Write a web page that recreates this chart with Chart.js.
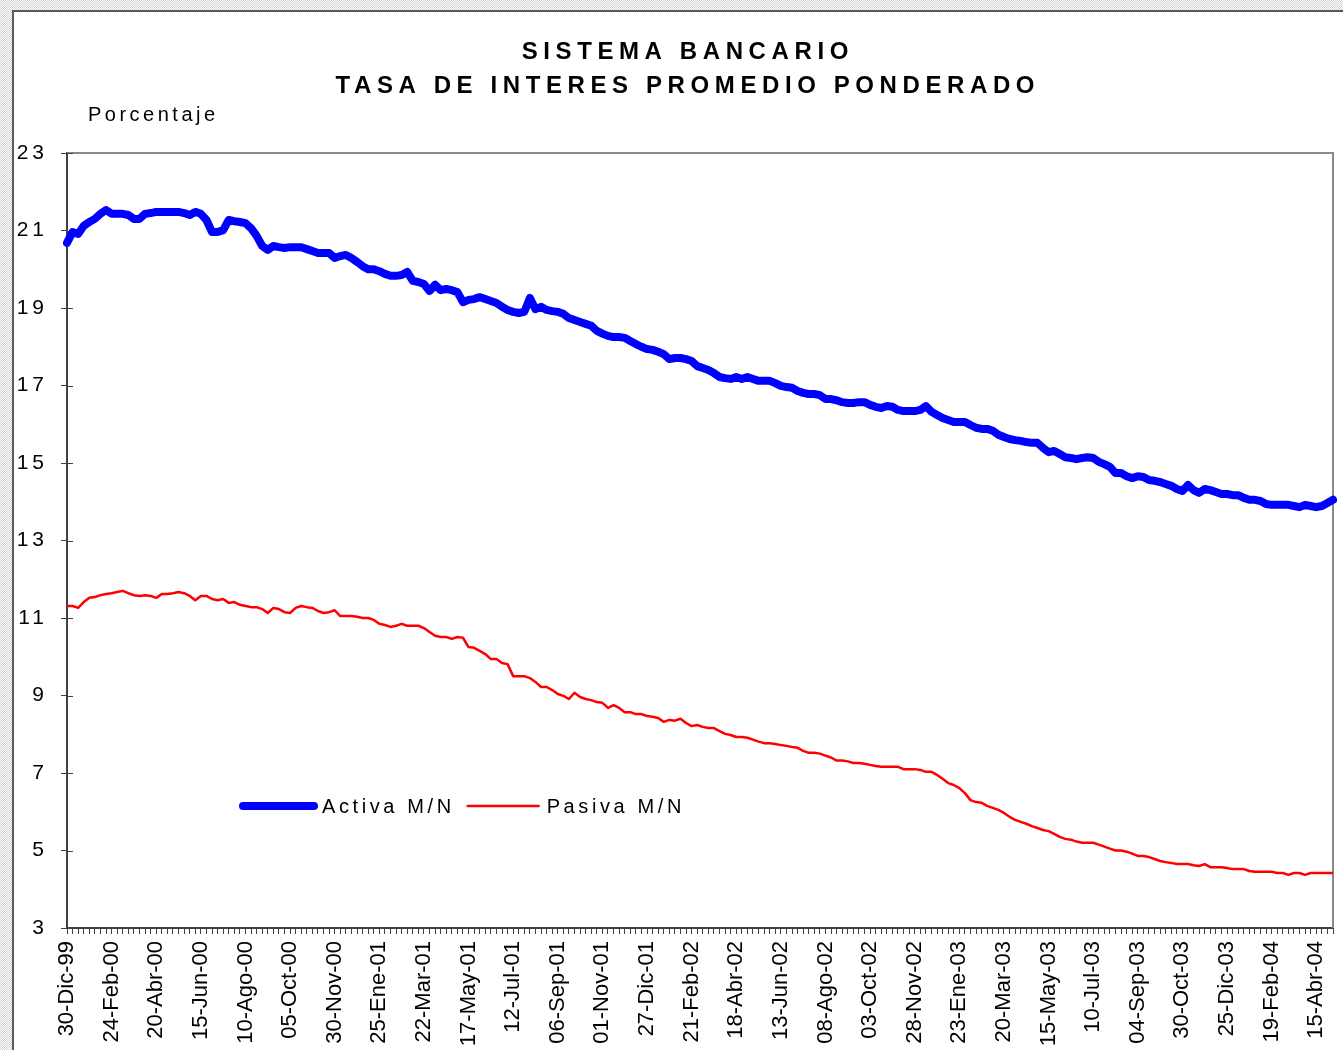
<!DOCTYPE html>
<html lang="es">
<head>
<meta charset="utf-8">
<title>Sistema Bancario - Tasa de interes promedio ponderado</title>
<script src="https://cdn.jsdelivr.net/npm/chart.js@4.4.1/dist/chart.umd.min.js"></script>
<style>
  body {
    margin: 0;
    width: 1343px;
    height: 1050px;
    overflow: hidden;
    background: repeating-conic-gradient(#d2d2d2 0 25%, #ffffff 0 50%) 0 0 / 2px 2px;
  }
  #frame {
    position: absolute;
    left: 12px;
    top: 10px;
    right: 0;
    bottom: 0;
    background: #fff;
    border-left: 2px solid #5a5a5a;
    border-top: 2px solid #5a5a5a;
  }
  #tasas-chart { position: absolute; left: 0; top: 0; }
</style>
</head>
<body>
<div id="frame"></div>
<canvas id="tasas-chart" width="1343" height="1050"></canvas>
<script>
'use strict';

// *************** DATA
// weekly series, first week 30-Dic-99, one label every 8 weeks
let startDate = Date.UTC(1999, 11, 30);
let weekCount = 228;
let tickEvery = 8;
let monthNames = ['Ene', 'Feb', 'Mar', 'Abr', 'May', 'Jun', 'Jul', 'Ago', 'Sep', 'Oct', 'Nov', 'Dic'];

let titleLines = ['SISTEMA BANCARIO', 'TASA DE INTERES PROMEDIO PONDERADO'];
let yAxisTitle = 'Porcentaje';
let yMin = 3;
let yMax = 23;
let yStep = 2;

let activaLabel = 'Activa M/N';
let activa = [
  20.68, 20.96, 20.91, 21.12, 21.22, 21.30, 21.43, 21.53,
  21.43, 21.43, 21.43, 21.40, 21.30, 21.30, 21.43, 21.45,
  21.48, 21.48, 21.48, 21.48, 21.48, 21.45, 21.40, 21.48,
  21.43, 21.27, 20.96, 20.96, 21.01, 21.27, 21.24, 21.22,
  21.19, 21.06, 20.86, 20.60, 20.50, 20.60, 20.57, 20.55,
  20.57, 20.57, 20.57, 20.52, 20.47, 20.42, 20.42, 20.42,
  20.29, 20.34, 20.37, 20.29, 20.19, 20.08, 20.00, 20.00,
  19.95, 19.88, 19.83, 19.83, 19.85, 19.93, 19.70, 19.67,
  19.62, 19.44, 19.60, 19.46, 19.49, 19.46, 19.41, 19.15,
  19.21, 19.23, 19.28, 19.23, 19.18, 19.13, 19.03, 18.95,
  18.90, 18.87, 18.90, 19.26, 18.97, 19.03, 18.95, 18.92,
  18.90, 18.85, 18.74, 18.69, 18.64, 18.59, 18.54, 18.41,
  18.34, 18.28, 18.25, 18.25, 18.23, 18.15, 18.07, 18.00,
  17.94, 17.92, 17.87, 17.81, 17.68, 17.71, 17.71, 17.68,
  17.63, 17.50, 17.45, 17.40, 17.32, 17.22, 17.19, 17.17,
  17.22, 17.17, 17.22, 17.17, 17.12, 17.12, 17.12, 17.06,
  16.99, 16.96, 16.94, 16.86, 16.81, 16.78, 16.78, 16.75,
  16.65, 16.65, 16.62, 16.57, 16.55, 16.55, 16.57, 16.57,
  16.50, 16.45, 16.42, 16.47, 16.45, 16.37, 16.34, 16.34,
  16.34, 16.37, 16.47, 16.32, 16.24, 16.16, 16.11, 16.06,
  16.06, 16.06, 15.98, 15.91, 15.88, 15.88, 15.83, 15.73,
  15.67, 15.62, 15.59, 15.57, 15.54, 15.52, 15.52, 15.39,
  15.28, 15.31, 15.23, 15.15, 15.13, 15.10, 15.13, 15.15,
  15.13, 15.03, 14.97, 14.90, 14.74, 14.74, 14.66, 14.61,
  14.66, 14.64, 14.56, 14.54, 14.51, 14.46, 14.41, 14.33,
  14.28, 14.43, 14.30, 14.23, 14.33, 14.30, 14.25, 14.20,
  14.20, 14.17, 14.17, 14.10, 14.05, 14.05, 14.02, 13.94,
  13.92, 13.92, 13.92, 13.92, 13.89, 13.86, 13.92, 13.89,
  13.86, 13.89, 13.97, 14.05
];

let pasivaLabel = 'Pasiva M/N';
let pasiva = [
  11.31, 11.31, 11.26, 11.41, 11.52, 11.54, 11.59, 11.62,
  11.64, 11.67, 11.70, 11.64, 11.59, 11.57, 11.59, 11.57,
  11.52, 11.62, 11.62, 11.64, 11.67, 11.64, 11.57, 11.46,
  11.57, 11.57, 11.49, 11.46, 11.49, 11.39, 11.41, 11.34,
  11.31, 11.28, 11.28, 11.23, 11.13, 11.26, 11.23, 11.15,
  11.13, 11.26, 11.31, 11.28, 11.26, 11.18, 11.13, 11.15,
  11.20, 11.05, 11.05, 11.05, 11.03, 11.00, 11.00, 10.95,
  10.85, 10.82, 10.77, 10.80, 10.85, 10.80, 10.80, 10.80,
  10.74, 10.64, 10.54, 10.51, 10.51, 10.46, 10.51, 10.49,
  10.25, 10.23, 10.15, 10.07, 9.94, 9.94, 9.84, 9.81,
  9.50, 9.50, 9.50, 9.45, 9.35, 9.22, 9.22, 9.14,
  9.04, 8.99, 8.91, 9.07, 8.96, 8.91, 8.88, 8.83,
  8.81, 8.68, 8.75, 8.68, 8.57, 8.57, 8.52, 8.52,
  8.47, 8.45, 8.42, 8.32, 8.37, 8.35, 8.40, 8.29,
  8.21, 8.24, 8.19, 8.16, 8.16, 8.08, 8.01, 7.98,
  7.93, 7.93, 7.91, 7.86, 7.81, 7.77, 7.77, 7.75,
  7.72, 7.70, 7.67, 7.65, 7.57, 7.52, 7.52, 7.50,
  7.45, 7.40, 7.32, 7.32, 7.30, 7.26, 7.26, 7.24,
  7.21, 7.18, 7.16, 7.16, 7.16, 7.16, 7.10, 7.10,
  7.10, 7.08, 7.03, 7.03, 6.95, 6.85, 6.74, 6.69,
  6.61, 6.48, 6.30, 6.25, 6.23, 6.15, 6.10, 6.05,
  5.97, 5.87, 5.79, 5.74, 5.69, 5.63, 5.58, 5.53,
  5.50, 5.43, 5.35, 5.30, 5.28, 5.23, 5.20, 5.20,
  5.20, 5.15, 5.10, 5.05, 5.00, 5.00, 4.97, 4.92,
  4.86, 4.86, 4.83, 4.78, 4.73, 4.70, 4.68, 4.65,
  4.65, 4.65, 4.62, 4.60, 4.65, 4.57, 4.57, 4.57,
  4.55, 4.52, 4.52, 4.52, 4.47, 4.45, 4.45, 4.45,
  4.45, 4.42, 4.42, 4.37, 4.42, 4.42, 4.37, 4.42,
  4.42, 4.42, 4.42, 4.42
];

// *************** HELPERS
let fontFamily = '"Liberation Sans", Arial, sans-serif';

function weekLabel(i) {
  let d = new Date(startDate + i * 7 * 86400000);
  let day = String(d.getUTCDate()).padStart(2, '0');
  let year = String(d.getUTCFullYear()).slice(2);
  return `${day}-${monthNames[d.getUTCMonth()]}-${year}`;
}

let weeks = [];
for (let i = 0; i < weekCount; i++) {
  weeks.push(weekLabel(i));
}

function spacedText(ctx, text, x, y, spacing, align) {
  ctx.letterSpacing = spacing + 'px';
  ctx.textAlign = align;
  ctx.fillText(text, align === 'center' ? x + spacing / 2 : x, y);
}

// *************** PLUGIN: frame, titles, legend
let chartDecor = {
  id: 'chartDecor',
  beforeDraw(chart) {
    chart.ctx.letterSpacing = '0px';
  },
  beforeDatasetsDraw(chart) {
    let ctx = chart.ctx;
    let a = chart.chartArea;
    ctx.save();
    ctx.strokeStyle = '#8a8a8a';
    ctx.lineWidth = 2;
    ctx.beginPath();
    ctx.moveTo(a.left, a.top);
    ctx.lineTo(a.right, a.top);
    ctx.lineTo(a.right, a.bottom);
    ctx.stroke();

    // inner half of the y tick marks
    ctx.strokeStyle = '#404040';
    ctx.lineWidth = 1;
    let yScale = chart.scales.y;
    yScale.ticks.forEach(t => {
      let y = Math.round(yScale.getPixelForValue(t.value)) + 0.5;
      ctx.beginPath();
      ctx.moveTo(a.left, y);
      ctx.lineTo(a.left + 6, y);
      ctx.stroke();
    });
    ctx.restore();
  },
  afterDatasetsDraw(chart) {
    // y tick labels are drawn after this (ticks.z = 1), spaced like the original
    chart.ctx.letterSpacing = '4px';
  },
  afterDraw(chart) {
    let ctx = chart.ctx;
    ctx.save();
    ctx.fillStyle = '#000';
    ctx.textBaseline = 'middle';

    ctx.font = `bold 24px ${fontFamily}`;
    spacedText(ctx, titleLines[0], 685, 52, 5.6, 'center');
    spacedText(ctx, titleLines[1], 685, 86, 5.6, 'center');

    ctx.font = `20px ${fontFamily}`;
    spacedText(ctx, yAxisTitle, 88, 115, 3.5, 'left');

    // legend inside the plot
    let x = 243;
    let y = 807;
    chart.data.datasets.forEach(ds => {
      ctx.strokeStyle = ds.borderColor;
      ctx.lineWidth = ds.borderWidth;
      ctx.lineCap = 'round';
      ctx.beginPath();
      ctx.moveTo(x, y - 1);
      ctx.lineTo(x + 71, y - 1);
      ctx.stroke();
      x += 79;
      ctx.font = `20px ${fontFamily}`;
      spacedText(ctx, ds.label, x, y, 3.6, 'left');
      x += ctx.measureText(ds.label).width + 13;
    });
    ctx.restore();
  }
};

// *************** CHART
let ctx = document.getElementById('tasas-chart');

let chartObj = {
  type: 'line',
  data: {
    labels: weeks,
    datasets: [{
      label: activaLabel,
      data: activa,
      borderColor: '#0000ff',
      backgroundColor: '#0000ff',
      borderWidth: 8,
      borderJoinStyle: 'round',
      borderCapStyle: 'round',
      pointRadius: 0,
      tension: 0
    },
    {
      label: pasivaLabel,
      data: pasiva,
      borderColor: '#ff0000',
      backgroundColor: '#ff0000',
      borderWidth: 2.5,
      borderJoinStyle: 'round',
      pointRadius: 0,
      tension: 0
    }]
  },
  options: {
    responsive: false,
    animation: false,
    events: [],
    layout: {
      padding: { left: 12, top: 153, right: 10, bottom: 0 }
    },
    plugins: {
      legend: { display: false },
      title: { display: false },
      tooltip: { enabled: false }
    },
    scales: {
      x: {
        offset: false,
        afterFit: scale => {
          scale.height = 122;
          scale.paddingLeft = 0;
          scale.paddingRight = 0;
        },
        border: { color: '#404040', width: 2 },
        grid: {
          display: true,
          drawOnChartArea: false,
          drawTicks: true,
          tickLength: 6,
          color: '#404040',
          offset: false
        },
        ticks: {
          autoSkip: false,
          minRotation: 90,
          maxRotation: 90,
          padding: 7,
          color: '#000',
          font: { family: fontFamily, size: 22 },
          callback: function (val, index) {
            return index % tickEvery === 0 ? this.getLabelForValue(val) : '';
          }
        }
      },
      y: {
        min: yMin,
        max: yMax,
        afterFit: scale => { scale.width = 55; },
        border: { color: '#404040', width: 2 },
        grid: {
          display: true,
          drawOnChartArea: false,
          drawTicks: true,
          tickLength: 6,
          color: '#404040'
        },
        ticks: {
          stepSize: yStep,
          padding: 13,
          z: 1,
          color: '#000',
          font: { family: fontFamily, size: 21 }
        }
      }
    }
  },
  plugins: [chartDecor]
};

new Chart(ctx, chartObj); // eslint-disable-line
</script>
</body>
</html>
